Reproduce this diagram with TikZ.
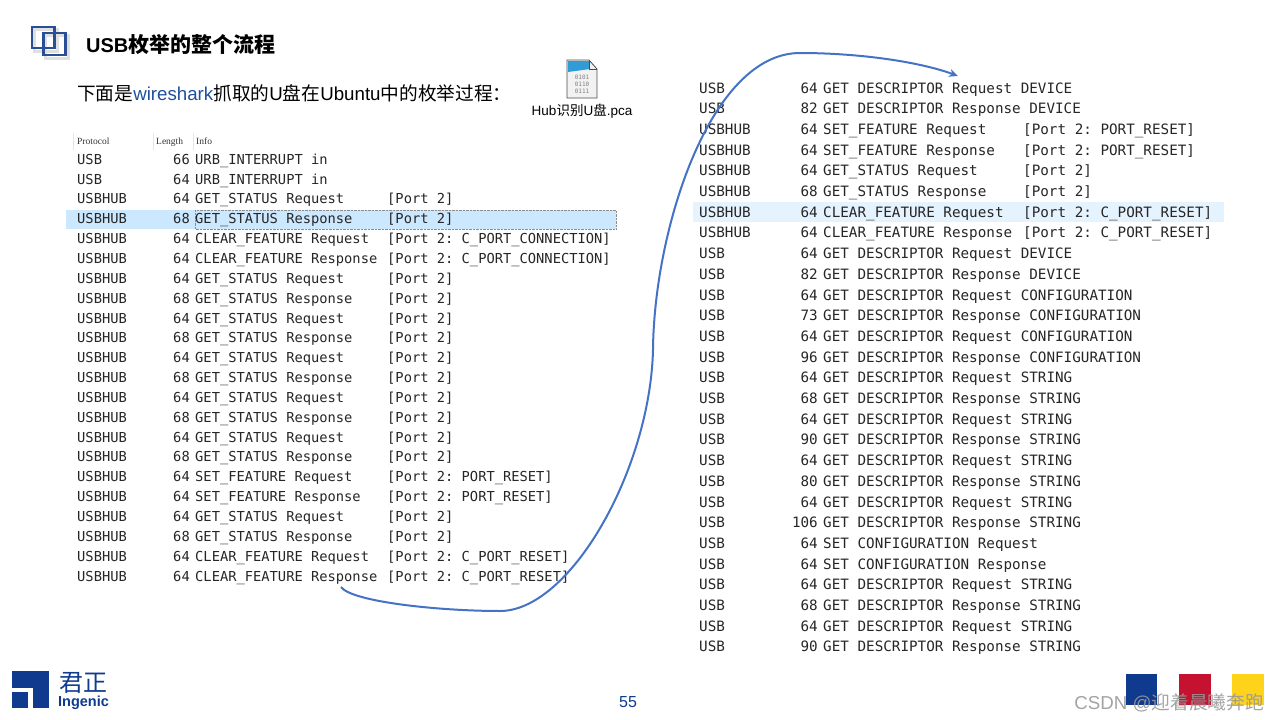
\documentclass[tikz,border=0pt]{standalone}
\usepackage{fontspec}
\setmainfont{Liberation Sans}
\setmonofont{DejaVu Sans Mono}
\newfontfamily\cjk{Noto Sans CJK SC}
\newfontfamily\headfont{Liberation Serif}
\usetikzlibrary{arrows.meta}
\definecolor{navy}{RGB}{42, 79, 150}
\definecolor{curve}{RGB}{68, 114, 196}
\definecolor{rowhi}{RGB}{204, 232, 255}
\definecolor{rowlo}{RGB}{229, 243, 255}
\definecolor{logoblue}{RGB}{15, 58, 142}
\definecolor{logored}{RGB}{197, 18, 48}
\definecolor{logoyellow}{RGB}{255, 211, 26}
\definecolor{wirecolor}{RGB}{30, 78, 158}
\tikzset{
  cell/.style={inner sep=0pt, anchor=base west, text=black!85},
  cellnum/.style={inner sep=0pt, anchor=base east, text=black!85},
  lrow/.style={font=\ttfamily\fontsize{13.75}{16}\selectfont},
  rrow/.style={font=\ttfamily\fontsize{14.27}{16}\selectfont},
  head/.style={inner sep=0pt, anchor=base west, text=black!80, font=\fontsize{9.5}{10}\selectfont\headfont}
}
\begin{document}
\begin{tikzpicture}[x=1pt, y=-1pt]
  \useasboundingbox (0,0) rectangle (1280,720);
  % title
  \draw[black!12, line width=3pt] (34,29) rectangle (57,51);
  \draw[black!12, line width=3pt] (45,35) rectangle (68,58);
  \draw[navy, line width=2.5pt] (32,27) rectangle (54.5,48);
  \draw[navy, line width=2.5pt] (43.5,33) rectangle (65.5,55);
  \node[inner sep=0pt, anchor=base west] (title) at (86,52.5)
    {\fontsize{20}{24}\selectfont\bfseries USB{\cjk\fontsize{21}{24}\selectfont 枚举的整个流程}};
  \node[inner sep=0pt, anchor=base west] (subtitle) at (77,100)
    {\fontsize{18.7}{22}\selectfont\cjk 下面是\color{wirecolor}{\rmfamily wireshark}\color{black}抓取的{\rmfamily U}盘在{\rmfamily Ubuntu}中的枚举过程：};
  % file icon
  \fill[black!5] (567,60) -- (589,60) -- (597,69) -- (597,98) -- (567,98) -- cycle;
  \fill[curve!70!cyan] (568,61) -- (589,61) -- (590,69) -- (568,72) -- cycle;
  \draw[black!70, line width=.8pt] (567,60) -- (589,60) -- (597,69) -- (597,98) -- (567,98) -- cycle;
  \draw[black!70, line width=.6pt] (589,60) -- (589,69) -- (597,69);
  \node[inner sep=0pt, text=black!50, align=center, font=\ttfamily\fontsize{6}{7}\selectfont] (bits) at (582,84) {0101\\0110\\0111};
  \node[inner sep=0pt] (filename) at (582,111.5) {\fontsize{13.5}{16}\selectfont Hub{\cjk 识别}U{\cjk 盘}.pca};

  % left table
  \fill[rowhi] (66,210) rectangle (616,229);
  \draw[black!45, densely dotted, line width=.4pt] (195,210) rectangle (616,229);
  \draw[black!10] (73,133) -- (73,150) (153,133) -- (153,150) (193,133) -- (193,150);
  \node[head] (hproto) at (77,144) {Protocol};
  \node[head] (hlen) at (156,144) {Length};
  \node[head] (hinfo) at (196,144) {Info};
  \foreach \proto/\len/\info [count=\i from 1] in {
    USB/66/URB\_INTERRUPT in,
    USB/64/URB\_INTERRUPT in,
    USBHUB/64/GET\_STATUS Request,
    USBHUB/68/GET\_STATUS Response,
    USBHUB/64/CLEAR\_FEATURE Request,
    USBHUB/64/CLEAR\_FEATURE Response,
    USBHUB/64/GET\_STATUS Request,
    USBHUB/68/GET\_STATUS Response,
    USBHUB/64/GET\_STATUS Request,
    USBHUB/68/GET\_STATUS Response,
    USBHUB/64/GET\_STATUS Request,
    USBHUB/68/GET\_STATUS Response,
    USBHUB/64/GET\_STATUS Request,
    USBHUB/68/GET\_STATUS Response,
    USBHUB/64/GET\_STATUS Request,
    USBHUB/68/GET\_STATUS Response,
    USBHUB/64/SET\_FEATURE Request,
    USBHUB/64/SET\_FEATURE Response,
    USBHUB/64/GET\_STATUS Request,
    USBHUB/68/GET\_STATUS Response,
    USBHUB/64/CLEAR\_FEATURE Request,
    USBHUB/64/CLEAR\_FEATURE Response} {
    \node[cell, lrow] (lproto\i) at (77, {164.2 + 19.85*(\i-1)}) {\proto};
    \node[cellnum, lrow] (llen\i) at (190, {164.2 + 19.85*(\i-1)}) {\len};
    \node[cell, lrow] (linfo\i) at (195, {164.2 + 19.85*(\i-1)}) {\info};
  }
  \foreach \port [count=\i from 3] in {
    Port 2, Port 2, Port 2: C\_PORT\_CONNECTION, Port 2: C\_PORT\_CONNECTION,
    Port 2, Port 2, Port 2, Port 2, Port 2, Port 2, Port 2, Port 2, Port 2, Port 2,
    Port 2: PORT\_RESET, Port 2: PORT\_RESET, Port 2, Port 2,
    Port 2: C\_PORT\_RESET, Port 2: C\_PORT\_RESET} {
    \node[cell, lrow] (lport\i) at (387, {164.2 + 19.85*(\i-1)}) {[\port]};
  }

  % right table
  \fill[rowlo] (693,202) rectangle (1224,222);
  \foreach \proto/\len/\info [count=\i from 1] in {
    USB/64/GET DESCRIPTOR Request DEVICE,
    USB/82/GET DESCRIPTOR Response DEVICE,
    USBHUB/64/SET\_FEATURE Request,
    USBHUB/64/SET\_FEATURE Response,
    USBHUB/64/GET\_STATUS Request,
    USBHUB/68/GET\_STATUS Response,
    USBHUB/64/CLEAR\_FEATURE Request,
    USBHUB/64/CLEAR\_FEATURE Response,
    USB/64/GET DESCRIPTOR Request DEVICE,
    USB/82/GET DESCRIPTOR Response DEVICE,
    USB/64/GET DESCRIPTOR Request CONFIGURATION,
    USB/73/GET DESCRIPTOR Response CONFIGURATION,
    USB/64/GET DESCRIPTOR Request CONFIGURATION,
    USB/96/GET DESCRIPTOR Response CONFIGURATION,
    USB/64/GET DESCRIPTOR Request STRING,
    USB/68/GET DESCRIPTOR Response STRING,
    USB/64/GET DESCRIPTOR Request STRING,
    USB/90/GET DESCRIPTOR Response STRING,
    USB/64/GET DESCRIPTOR Request STRING,
    USB/80/GET DESCRIPTOR Response STRING,
    USB/64/GET DESCRIPTOR Request STRING,
    USB/106/GET DESCRIPTOR Response STRING,
    USB/64/SET CONFIGURATION Request,
    USB/64/SET CONFIGURATION Response,
    USB/64/GET DESCRIPTOR Request STRING,
    USB/68/GET DESCRIPTOR Response STRING,
    USB/64/GET DESCRIPTOR Request STRING,
    USB/90/GET DESCRIPTOR Response STRING} {
    \node[cell, rrow] (rproto\i) at (699, {93 + 20.7*(\i-1)}) {\proto};
    \node[cellnum, rrow] (rlen\i) at (818, {93 + 20.7*(\i-1)}) {\len};
    \node[cell, rrow] (rinfo\i) at (823, {93 + 20.7*(\i-1)}) {\info};
  }
  \foreach \port [count=\i from 3] in {
    Port 2: PORT\_RESET, Port 2: PORT\_RESET, Port 2, Port 2,
    Port 2: C\_PORT\_RESET, Port 2: C\_PORT\_RESET} {
    \node[cell, rrow] (rport\i) at (1023, {93 + 20.7*(\i-1)}) {[\port]};
  }

  % connector
  \coordinate (curvestart) at (341,587);
  \coordinate (curveend) at (958,76);
  \draw[curve, line width=2pt, -{Stealth[length=9pt, width=8pt]}] (curvestart)
    .. controls (352,602) and (440,611) .. (500,611)
    .. controls (570,611) and (650,470) .. (653,350)
    .. controls (654,230) and (710,53) .. (800,53)
    .. controls (860,53) and (920,62) .. (curveend);

  % footer
  \fill[logoblue] (12,671) rectangle (49,708);
  \fill[white] (12,688.3) rectangle (32.7,692.3);
  \fill[white] (28.3,688.3) rectangle (32.7,708.5);
  \node[inner sep=0pt, text=logoblue] (junzheng) at (83,683) {\cjk\fontsize{24}{24}\selectfont 君正};
  \node[inner sep=0pt, text=logoblue] (ingenic) at (83.5,703) {\bfseries\fontsize{14.5}{16}\selectfont Ingenic};
  \node[inner sep=0pt, text=logoblue] (pagenum) at (628,702) {\fontsize{16}{18}\selectfont 55};
  \fill[logoblue] (1126,674) rectangle (1157,705);
  \fill[logored] (1179,674) rectangle (1211,705);
  \fill[logoyellow] (1232,674) rectangle (1264,705);
  \node[inner sep=0pt, anchor=base east, text=black!40, opacity=.9] (mark) at (1264,709)
    {\fontsize{18.7}{22}\selectfont CSDN @{\cjk 迎着晨曦奔跑}};
\end{tikzpicture}
\end{document}
